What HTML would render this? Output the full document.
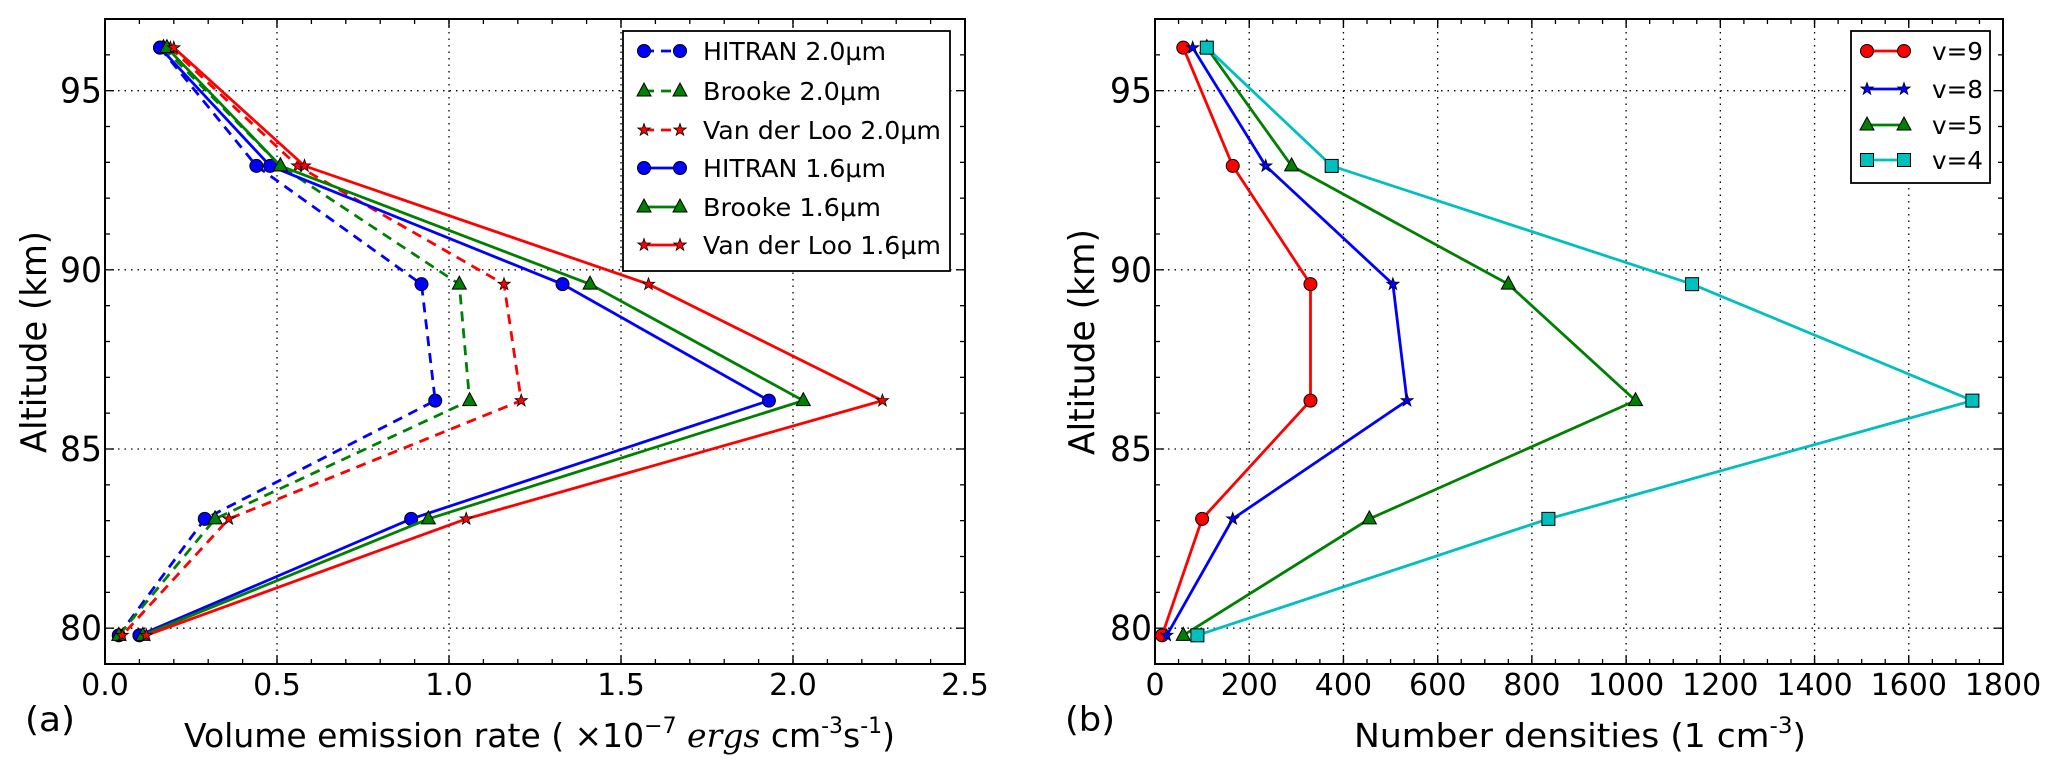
<!DOCTYPE html>
<html><head><meta charset="utf-8"><style>
html,body{margin:0;padding:0;background:#fff;}
svg{display:block;font-family:"DejaVu Sans","Liberation Sans",sans-serif;}
</style></head><body>
<svg id="fig" width="2067" height="769" viewBox="0 0 2067 769" xmlns="http://www.w3.org/2000/svg">
<g id="pa"></g>
<g id="pb"></g>
</svg>
<script>
// ---- data ----
const altitudes = [96.2, 92.9, 89.6, 86.35, 83.05, 79.8];
const seriesA_names = ["HITRAN 2.0\u03bcm","Brooke 2.0\u03bcm","Van der Loo 2.0\u03bcm","HITRAN 1.6\u03bcm","Brooke 1.6\u03bcm","Van der Loo 1.6\u03bcm"];
const hitran20 = [0.16, 0.44, 0.92, 0.96, 0.29, 0.04];
const brooke20 = [0.17, 0.51, 1.03, 1.06, 0.32, 0.04];
const vdl20 = [0.19, 0.56, 1.16, 1.21, 0.36, 0.05];
const hitran16 = [0.16, 0.48, 1.33, 1.93, 0.89, 0.10];
const brooke16 = [0.18, 0.51, 1.41, 2.03, 0.94, 0.11];
const vdl16 = [0.20, 0.58, 1.58, 2.26, 1.05, 0.12];
const xTicksA = ["0.0","0.5","1.0","1.5","2.0","2.5"];
const xTickValsA = [0,0.5,1,1.5,2,2.5];
const yTickVals = [80,85,90,95];
const seriesB_names = ["v=9","v=8","v=5","v=4"];
const v9 = [60, 165, 330, 330, 100, 15];
const v8 = [80, 235, 505, 535, 165, 25];
const v5 = [110, 290, 750, 1020, 455, 60];
const v4 = [110, 375, 1140, 1735, 835, 90];
const xTickValsB = [0,200,400,600,800,1000,1200,1400,1600,1800];

const NS="http://www.w3.org/2000/svg";
function el(parent, tag, attrs){const e=document.createElementNS(NS,tag);for(const k in attrs)e.setAttribute(k,attrs[k]);parent.appendChild(e);return e;}
function txt(parent,x,y,s,size,anchor,len){const t=el(parent,'text',{x:x,y:y,'font-size':size,'text-anchor':anchor||'start',fill:'#000'});if(len){t.setAttribute('textLength',len);t.setAttribute('lengthAdjust','spacingAndGlyphs');}t.textContent=s;return t;}

const TOP=19,BOT=664,YMIN=79,YMAX=97;
function yScale(v){return BOT-(v-YMIN)/(YMAX-YMIN)*(BOT-TOP);}

function marker(g,type,x,y,color){
  let m;
  if(type==='o'){m=el(g,'circle',{cx:x,cy:y,r:6.5,fill:color,stroke:'#000','stroke-width':1});}
  else if(type==='^'){m=el(g,'polygon',{points:`${x},${y-8} ${x-7},${y+5} ${x+7},${y+5}`,fill:color,stroke:'#000','stroke-width':1});}
  else if(type==='s'){m=el(g,'rect',{x:x-6.5,y:y-6.5,width:13,height:13,fill:color,stroke:'#000','stroke-width':1});}
  else {let p=[];for(let i=0;i<10;i++){const r=i%2?2.6:6.5;const a=-Math.PI/2+i*Math.PI/5;p.push((x+r*Math.cos(a)).toFixed(1)+','+(y+r*Math.sin(a)).toFixed(1));}
    m=el(g,'polygon',{points:p.join(' '),fill:color,stroke:'#000','stroke-width':0.8});}
  
  
  return m;
}

function axes(g,L,R,xVals,xLabels,xScale,minorStep){
  const xmax=xVals[xVals.length-1];
  for(let v=0;v<=xmax+1e-9;v+=minorStep){const x=xScale(v);
    el(g,'line',{x1:x,x2:x,y1:BOT,y2:BOT-5,stroke:'#000','stroke-width':1.3});
    el(g,'line',{x1:x,x2:x,y1:TOP,y2:TOP+5,stroke:'#000','stroke-width':1.3});}
  xVals.forEach((v,i)=>{const x=xScale(v);
    if(i>0&&i<xVals.length-1){const l=el(g,'line',{x1:x,x2:x,y1:TOP,y2:BOT,stroke:'#000','stroke-width':1.3,'stroke-dasharray':'1.5,5'});}
    el(g,'line',{x1:x,x2:x,y1:BOT,y2:BOT-9,stroke:'#000','stroke-width':1.3});
    el(g,'line',{x1:x,x2:x,y1:TOP,y2:TOP+9,stroke:'#000','stroke-width':1.3});
    const t=txt(g,x,695,xLabels[i],30,'middle');
    
    
  });
  for(let v=80;v<=96;v++){const y=yScale(v);const major=v%5===0;const len=major?9:5;
    el(g,'line',{x1:L,x2:L+len,y1:y,y2:y,stroke:'#000','stroke-width':1.3});
    el(g,'line',{x1:R,x2:R-len,y1:y,y2:y,stroke:'#000','stroke-width':1.3});}
  yTickVals.forEach(v=>{const y=yScale(v);
    const l=el(g,'line',{x1:L,x2:R,y1:y,y2:y,stroke:'#000','stroke-width':1.3,'stroke-dasharray':'1.5,5'});
    
    
    const t=txt(g,L-3,y+12,String(v),35,'end',42);
    
    
  });
}
function series(g,xScale,vals,color,dash,mk,name){
  const s=el(g,'g',{});
  
  
  const pts=vals.map((v,i)=>xScale(v).toFixed(1)+','+yScale(altitudes[i]).toFixed(1)).join(' ');
  const pl=el(s,'polyline',{points:pts,fill:'none',stroke:color,'stroke-width':2.8});
  if(dash)pl.setAttribute('stroke-dasharray','10,7');
  vals.forEach((v,i)=>marker(s,mk,xScale(v),yScale(altitudes[i]),color));
}
function legend(g,x,y,w,h,items,rows,lineX1,lineX2,textX,lens){
  const lg=el(g,'g',{});
  
  
  el(lg,'rect',{x:x,y:y,width:w,height:h,fill:'#fff',stroke:'#000','stroke-width':1.8});
  items.forEach((it,i)=>{const e=el(lg,'g',{});
    
    
    const yy=rows[i];
    const l=el(e,'line',{x1:lineX1,x2:lineX2,y1:yy,y2:yy,stroke:it.c,'stroke-width':2.8});
    if(it.d)l.setAttribute('stroke-dasharray','10,7');
    marker(e,it.m,lineX1,yy,it.c);marker(e,it.m,lineX2,yy,it.c);
    txt(e,textX,yy+9,it.n,25,'start',lens[i]);
  });
}

// ---- Panel A ----
(function(){
  const g=document.getElementById('pa');
  const L=105,R=965;
  const xs=v=>L+v/2.5*(R-L);
  axes(g,L,R,xTickValsA,xTicksA,xs,0.1);
  series(g,xs,hitran20,'#0000ff',true,'o','series-hitran-2.0');
  series(g,xs,brooke20,'#008000',true,'^','series-brooke-2.0');
  series(g,xs,vdl20,'#ff0000',true,'*','series-vanderloo-2.0');
  series(g,xs,hitran16,'#0000ff',false,'o','series-hitran-1.6');
  series(g,xs,brooke16,'#008000',false,'^','series-brooke-1.6');
  series(g,xs,vdl16,'#ff0000',false,'*','series-vanderloo-1.6');
  const f=el(g,'rect',{x:L,y:TOP,width:R-L,height:BOT-TOP,fill:'none',stroke:'#000','stroke-width':2});
  
  
  const cols=['#0000ff','#008000','#ff0000','#0000ff','#008000','#ff0000'];
  const mks=['o','^','*','o','^','*'];
  legend(g,623,31,327,240,seriesA_names.map((n,i)=>({n:n,c:cols[i],m:mks[i],d:i<3})),[51,91,130,168,207,245],644,680,703,[183,178,238,183,178,238]);
  const yl=txt(g,0,0,'Altitude (km)',36,'middle',222);
  yl.setAttribute('transform','translate(46,342) rotate(-90)');
  
  
  const pl=txt(g,25,731,'(a)',34,'start',50);
  
  
  const xl=el(g,'text',{x:184,y:747,'font-size':33});
  
  
  xl.innerHTML='Volume emission rate ( \u00d710<tspan dy="-14" font-size="22">\u22127</tspan><tspan dy="14"> </tspan><tspan font-family="DejaVu Serif, Liberation Serif, serif" font-style="italic">ergs</tspan> cm<tspan dy="-14" font-size="22">-3</tspan><tspan dy="14">s</tspan><tspan dy="-14" font-size="22">-1</tspan><tspan dy="14">)</tspan>';
  xl.setAttribute('textLength',711);
  xl.setAttribute('lengthAdjust','spacingAndGlyphs');
})();

// ---- Panel B ----
(function(){
  const g=document.getElementById('pb');
  const L=1155,R=2003;
  const xs=v=>L+v/1800*(R-L);
  axes(g,L,R,xTickValsB,xTickValsB.map(String),xs,50);
  series(g,xs,v9,'#ff0000',false,'o','series-v9');
  series(g,xs,v8,'#0000ff',false,'*','series-v8');
  series(g,xs,v5,'#008000',false,'^','series-v5');
  series(g,xs,v4,'#00bfbf',false,'s','series-v4');
  const f=el(g,'rect',{x:L,y:TOP,width:R-L,height:BOT-TOP,fill:'none',stroke:'#000','stroke-width':2});
  
  
  const cols=['#ff0000','#0000ff','#008000','#00bfbf'];
  const mks=['o','*','^','s'];
  legend(g,1851,31,139,152,seriesB_names.map((n,i)=>({n:n,c:cols[i],m:mks[i],d:false})),[51,89,125,160],1867,1904,1932,[51,51,51,51]);
  const yl=txt(g,0,0,'Altitude (km)',36,'middle',226);
  yl.setAttribute('transform','translate(1094,342) rotate(-90)');
  
  
  const pl=txt(g,1065,731,'(b)',34,'start',50);
  
  
  const xl=el(g,'text',{x:1354,y:747,'font-size':33});
  
  
  xl.innerHTML='Number densities (1 cm<tspan dy="-14" font-size="22">-3</tspan><tspan dy="14">)</tspan>';
  xl.setAttribute('textLength',452);
  xl.setAttribute('lengthAdjust','spacingAndGlyphs');
})();
</script>
</body></html>
